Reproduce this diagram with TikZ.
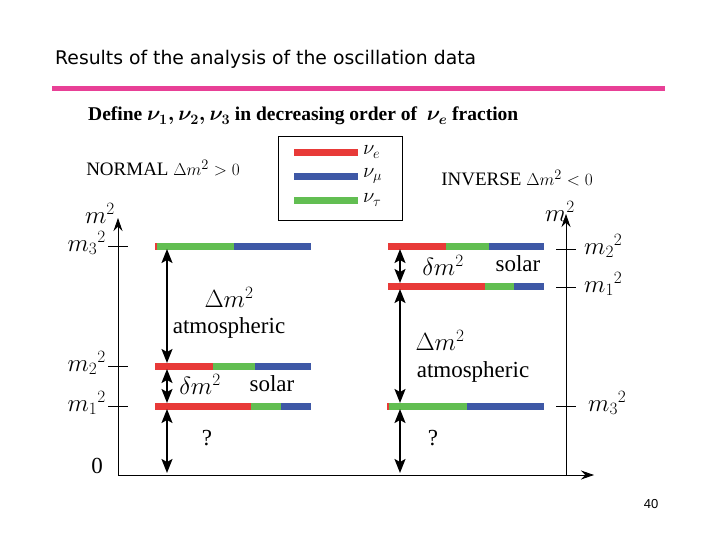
\documentclass[tikz,border=0pt]{standalone}
\usepackage{fontspec}
\setmainfont{Liberation Serif}
\newfontfamily\slidefont{DejaVu Sans}
\newfontfamily\pagefont{Liberation Sans}
\usetikzlibrary{arrows.meta,positioning}
\definecolor{nured}{RGB}{232,58,56}
\definecolor{nugreen}{RGB}{98,190,82}
\definecolor{nublue}{RGB}{62,88,166}
\definecolor{rulepink}{RGB}{232,64,150}
\tikzset{
  title/.style={font=\slidefont\fontsize{18.8}{18.8}\selectfont, inner sep=0pt},
  define/.style={font=\bfseries\fontsize{19.5}{19.5}\selectfont, inner sep=0pt},
  ordering/.style={font=\fontsize{19}{19}\selectfont, inner sep=0pt},
  big/.style={font=\fontsize{23}{25}\selectfont, inner sep=0pt},
  flavour/.style={font=\fontsize{22}{22}\selectfont, inner sep=0pt, anchor=west},
  bar/.style={line width=7pt},
  keyline/.style={line width=7pt},
  tick/.style={line width=0.7pt},
  axis/.style={-{Stealth[length=13pt,width=9pt]}, line width=0.8pt},
  gap/.style={{Stealth[length=14pt,width=11pt,inset=3pt]}-{Stealth[length=14pt,width=11pt,inset=3pt]},
    line width=2.2pt, shorten >=3pt, shorten <=3pt}
}
% one mass level: y, start, red|green, green|blue, end
\newcommand{\levelbar}[5]{%
  \draw[bar, nured] (#2,#1) -- (#3,#1);
  \draw[bar, nugreen] (#3,#1) -- (#4,#1);
  \draw[bar, nublue] (#4,#1) -- (#5,#1);}
\begin{document}
\begin{tikzpicture}[x=1pt,y=-1pt]
\path[use as bounding box] (0,0) rectangle (720,540);

% heading
\node[title, anchor=base west] (head) at (55,65) {Results of the analysis of the oscillation data};
\draw[line width=5pt, rulepink] (52,89) -- (665,89);
\node[define, anchor=base west] (defn) at (88,121) {Define {\boldmath$\nu_1, \nu_2, \nu_3$} in decreasing order of \ {\boldmath$\nu_e$} fraction};

% legend
\node[draw, line width=0.8pt, minimum width=124pt, minimum height=84pt, anchor=north west] (key) at (278,136) {};
\draw[keyline, nured] (294,153) -- (358,153);
\draw[keyline, nublue] (294,177) -- (358,177);
\draw[keyline, nugreen] (294,201) -- (358,201);
\node[flavour] (nue) at (363,152) {$\nu_e$};
\node[flavour] (numu) at (363,176) {$\nu_\mu$};
\node[flavour] (nutau) at (363,200) {$\nu_\tau$};

\node[ordering] (normal) at (163,168) {NORMAL $\Delta m^2 > 0$};
\node[ordering] (inverse) at (517,178) {INVERSE $\Delta m^2 < 0$};

% axes
\coordinate (O) at (118,475);
\coordinate (Ltop) at (118,218);
\coordinate (R0) at (566,475);
\coordinate (Rtop) at (566,214);
\coordinate (Xend) at (594,475);
\draw[axis] (O) -- (Ltop);
\draw[axis] (R0) -- (Rtop);
\draw[axis] (O) -- (Xend);
\node[big] (lm) at (100,213) {$m^2$};
\node[big] (rm) at (560,211) {$m^2$};
\node[big] (zero) at (97,466) {0};

% ticks
\draw[tick] (108,246) -- (128,246);
\draw[tick] (108,366) -- (128,366);
\draw[tick] (108,406) -- (128,406);
\draw[tick] (556,249) -- (576,249);
\draw[tick] (556,287) -- (576,287);
\draw[tick] (556,406) -- (576,406);
\node[big, anchor=east] (lm3) at (106,243) {${m_3}^2$};
\node[big, anchor=east] (lm2) at (106,363) {${m_2}^2$};
\node[big, anchor=east] (lm1) at (106,403) {${m_1}^2$};
\node[big, anchor=west] (rm2) at (584,246) {${m_2}^2$};
\node[big, anchor=west] (rm1) at (584,284) {${m_1}^2$};
\node[big, anchor=west] (rm3) at (588,403) {${m_3}^2$};

% levels
\levelbar{246}{155}{157}{234}{311}
\levelbar{366}{155}{213}{255}{311}
\levelbar{406}{155}{251}{281}{311}
\levelbar{246}{388}{446}{489}{544}
\levelbar{286}{388}{485}{514}{544}
\levelbar{406}{387}{389}{467}{544}

% splittings, normal
\coordinate (N3) at (167,246);
\coordinate (N2) at (167,366);
\coordinate (N1) at (167,406);
\coordinate (N0) at (167,476);
\draw[gap] (N3) -- (N2);
\draw[gap] (N2) -- (N1);
\draw[gap] (N1) -- (N0);
\node[big] (natm) at (229,297) {$\Delta m^2$};
\node[big] (natmtxt) at (229,328) {atmospheric};
\node[big] (nsol) at (200,384) {$\delta m^2$};
\node[big] (nsoltxt) at (272,384) {solar};
\node[big] (nq) at (207,438) {?};

% splittings, inverse
\coordinate (I2) at (400,246);
\coordinate (I1) at (400,286);
\coordinate (I3) at (400,406);
\coordinate (I0) at (400,476);
\draw[gap] (I2) -- (I1);
\draw[gap] (I1) -- (I3);
\draw[gap] (I3) -- (I0);
\node[big] (isol) at (443,265) {$\delta m^2$};
\node[big] (isoltxt) at (518,264) {solar};
\node[big] (iatm) at (440,340) {$\Delta m^2$};
\node[big] (iatmtxt) at (473,372) {atmospheric};
\node[big] (iq) at (433,438) {?};

\node[font=\pagefont\fontsize{13}{13}\selectfont] (page) at (651,504) {40};
\end{tikzpicture}
\end{document}
